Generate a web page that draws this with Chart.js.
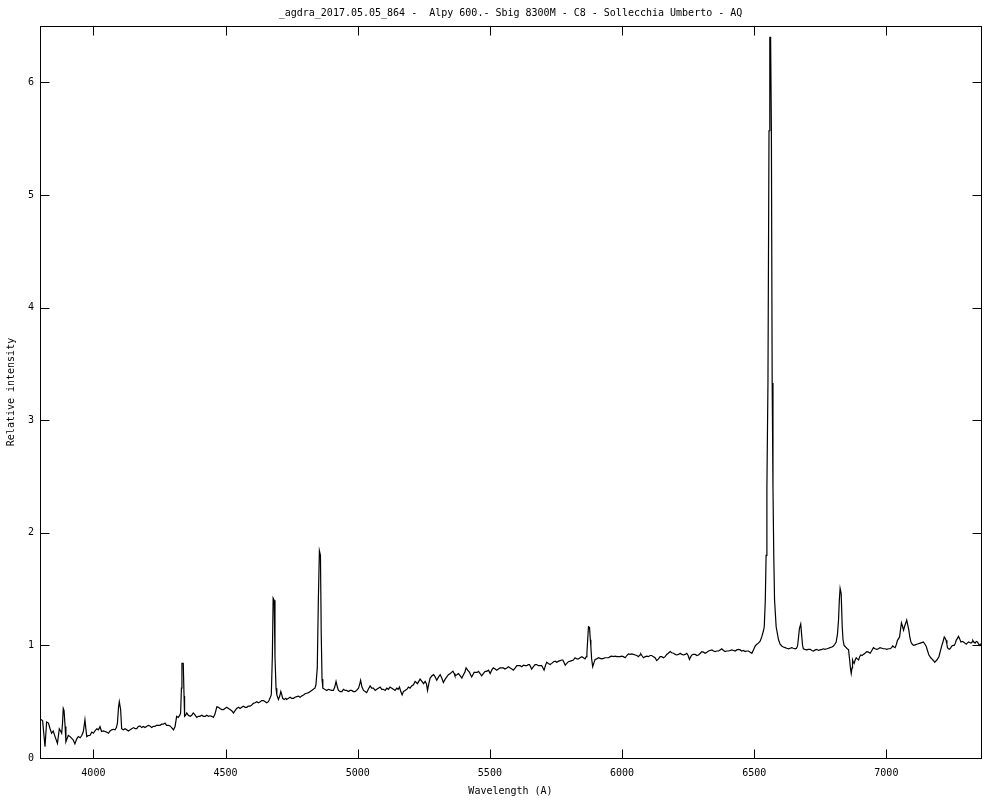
<!DOCTYPE html>
<html><head><meta charset="utf-8">
<script src="https://cdn.jsdelivr.net/npm/chart.js@4.4.1/dist/chart.umd.min.js"></script>
<style>html,body{margin:0;padding:0;background:#fff}#wrap{width:1000px;height:800px}</style>
</head><body><div id="wrap"><canvas id="c" width="1000" height="800"></canvas></div>
<script>
const chartTitle = "_agdra_2017.05.05_864 -  Alpy 600.- Sbig 8300M - C8 - Sollecchia Umberto - AQ";
const xLabel = "Wavelength (A)";
const yLabel = "Relative intensity";
const xTicks = [4000, 4500, 5000, 5500, 6000, 6500, 7000];
const yTicks = [0, 1, 2, 3, 4, 5, 6];

const wavelengths = [
3802,3808,3813,3817,3823,3830,3836,3842,3848,3855,3864,3871,3876,3880,3883,3886,3889,3893,3896,3905,
3912,3918,3924,3930,3937,3943,3950,3956,3962,3968,3972,3975,3981,3987,3994,4000,4006,4013,4019,4025,
4031,4038,4044,4050,4057,4063,4069,4076,4082,4087,4091,4095,4098,4103,4107,4113,4120,4126,4132,4139,
4145,4152,4158,4164,4170,4176,4183,4189,4195,4201,4208,4214,4220,4227,4233,4239,4246,4252,4258,4265,
4271,4277,4284,4290,4296,4303,4309,4315,4321,4327,4330,4333,4335,4340,4343,4345,4349,4353,4359,4366,
4372,4378,4385,4391,4397,4403,4410,4416,4423,4429,4435,4441,4448,4454,4460,4467,4473,4479,4486,4492,
4498,4504,4511,4517,4523,4530,4536,4542,4549,4555,4561,4567,4574,4580,4586,4593,4599,4605,4612,4618,
4624,4631,4637,4643,4650,4656,4662,4666,4673,4677,4680,4684,4687,4691,4694,4700,4705,4709,4713,4716,
4722,4728,4731,4738,4744,4750,4757,4763,4769,4776,4782,4788,4795,4801,4807,4814,4820,4826,4832,4838,
4842,4847,4851,4855,4859,4862,4865,4868,4875,4883,4889,4895,4902,4908,4913,4918,4923,
4927,4934,4940,4946,4952,4958,4965,4971,4977,4984,4990,4996,5003,5008,5011,5016,5022,5028,5034,5040,
5047,5053,5059,5066,5072,5078,5085,5091,5097,5104,5110,5116,5122,5129,5135,5141,5148,5153,5158,5163,
5168,5173,5179,5186,5192,5198,5204,5211,5217,5222,5226,5231,5236,5243,5249,5255,5260,5264,5269,5274,
5281,5287,5293,5299,5306,5312,5318,5324,5331,5337,5343,5350,5355,5360,5365,5368,5375,5381,5388,5394,
5400,5405,5410,5416,5423,5427,5431,5436,5440,5447,5452,5457,5463,5469,5475,5482,5488,5495,5501,5507,
5513,5520,5526,5532,5539,5545,5551,5557,5564,5570,5577,5583,5589,5596,5602,5608,5614,5621,5627,5633,
5640,5645,5650,5654,5658,5664,5671,5677,5684,5690,5696,5701,5705,5710,5715,5721,5728,5734,5741,5747,
5753,5760,5766,5772,5776,5780,5785,5791,5797,5804,5810,5816,5822,5829,5835,5841,5848,5854,5860,5865,
5867,5870,5873,5877,5880,5882,5885,5889,5893,5898,5904,5911,5917,5923,5930,5936,5942,5949,5955,5961,
5968,5974,5980,5986,5993,5999,6005,6012,6018,6024,6030,6037,6043,6050,6056,6062,6068,6071,6075,6081,
6088,6094,6100,6106,6112,6119,6125,6131,6138,6144,6150,6157,6163,6169,6175,6182,6188,6195,6201,6207,
6214,6220,6226,6232,6239,6245,6250,6255,6260,6264,6270,6277,6283,6289,6296,6302,6308,6314,6321,6327,
6333,6340,6346,6352,6359,6365,6371,6377,6384,6390,6396,6403,6409,6415,6422,6428,6434,6440,6447,6453,
6459,6466,6472,6478,6485,6491,6497,6504,6510,6516,6523,6529,6535,6538,6542,6545,6548,6552,6556,6559,
6562,6565,6568,6571,6574,6577,6583,6588,6592,6598,6604,6610,6617,6623,6630,6636,6642,6648,6655,6660,
6664,6668,6671,6676,6680,6683,6686,6692,6699,6705,6712,6718,6724,6731,6737,6743,6749,6756,6762,6768,
6775,6781,6787,6794,6800,6805,6810,6815,6819,6822,6825,6829,6833,6836,6840,6844,6848,6852,6857,6861,
6864,6867,6870,6872,6875,6878,6882,6886,6890,6895,6899,6903,6908,6913,6919,6926,6932,6939,6945,6951,
6957,6964,6970,6976,6983,6989,6995,7002,7008,7014,7020,7024,7029,7033,7038,7042,7046,7050,7054,7057,
7061,7065,7069,7072,7077,7081,7085,7089,7093,7098,7103,7109,7115,7121,7128,7134,7140,7146,7151,7156,
7161,7165,7168,7172,7176,7180,7183,7187,7191,7195,7199,7202,7206,7210,7214,7219,7223,7226,7229,7231,
7235,7239,7244,7248,7252,7257,7261,7264,7268,7273,7277,7282,7287,7292,7297,7302,7306,7311,7315,7320,
7324,7327,7331,7336,7340,7345,7349,7352,7355,7358
];

const intensities = [
0.343,0.33,0.20,0.10,0.32,0.31,0.26,0.22,0.24,0.19,0.13,0.26,0.24,0.22,0.30,0.44,0.42,0.28,0.145,0.20,
0.19,0.175,0.16,0.125,0.17,0.19,0.18,0.20,0.235,0.34,0.25,0.19,0.20,0.20,0.23,0.22,0.24,0.26,0.25,0.278,
0.235,0.24,0.235,0.23,0.22,0.24,0.25,0.255,0.25,0.27,0.31,0.45,0.50,0.43,0.26,0.25,0.26,0.25,0.24,0.25,
0.26,0.27,0.26,0.26,0.28,0.285,0.27,0.28,0.27,0.28,0.29,0.285,0.27,0.28,0.28,0.29,0.29,0.29,0.30,0.30,
0.31,0.29,0.29,0.285,0.27,0.25,0.28,0.37,0.36,0.38,0.40,0.62,0.84,0.84,0.55,0.37,0.38,0.40,0.38,0.37,
0.38,0.40,0.38,0.36,0.37,0.37,0.38,0.37,0.37,0.38,0.37,0.375,0.37,0.36,0.39,0.455,0.45,0.44,0.43,0.43,
0.44,0.45,0.44,0.43,0.42,0.40,0.42,0.44,0.45,0.44,0.45,0.46,0.45,0.45,0.46,0.46,0.47,0.485,0.49,0.50,
0.49,0.50,0.51,0.51,0.50,0.49,0.50,0.52,0.56,0.90,1.42,1.40,0.90,0.62,0.56,0.52,0.55,0.59,0.56,0.53,
0.52,0.53,0.52,0.53,0.54,0.53,0.53,0.54,0.545,0.55,0.54,0.55,0.56,0.57,0.575,0.58,0.59,0.60,0.61,0.62,
0.65,0.80,1.40,1.84,1.80,1.10,0.70,0.62,0.61,0.60,0.61,0.605,0.60,0.60,0.63,0.68,0.63,
0.60,0.59,0.59,0.61,0.60,0.60,0.59,0.60,0.60,0.59,0.59,0.60,0.62,0.66,0.69,0.63,0.60,0.59,0.58,0.61,
0.64,0.62,0.62,0.60,0.61,0.62,0.63,0.61,0.61,0.60,0.62,0.61,0.63,0.62,0.61,0.60,0.62,0.61,0.63,0.59,
0.56,0.59,0.60,0.61,0.63,0.62,0.64,0.65,0.68,0.67,0.66,0.68,0.70,0.68,0.66,0.68,0.66,0.60,0.66,0.71,
0.73,0.74,0.72,0.69,0.72,0.74,0.71,0.67,0.70,0.72,0.74,0.75,0.76,0.77,0.75,0.73,0.74,0.75,0.73,0.71,
0.74,0.76,0.80,0.78,0.76,0.74,0.72,0.74,0.76,0.76,0.76,0.77,0.75,0.73,0.75,0.77,0.77,0.78,0.75,0.78,
0.80,0.79,0.78,0.79,0.80,0.80,0.80,0.79,0.80,0.81,0.80,0.79,0.78,0.80,0.82,0.82,0.82,0.81,0.825,0.82,
0.82,0.83,0.83,0.81,0.79,0.81,0.83,0.83,0.82,0.82,0.82,0.80,0.78,0.82,0.85,0.84,0.83,0.84,0.855,0.86,
0.85,0.86,0.865,0.87,0.87,0.85,0.825,0.84,0.855,0.86,0.865,0.87,0.89,0.88,0.88,0.89,0.90,0.89,0.88,0.90,
0.93,1.05,1.165,1.16,1.05,0.99,0.88,0.81,0.84,0.875,0.88,0.89,0.885,0.88,0.885,0.89,0.89,0.89,0.90,0.905,
0.90,0.905,0.90,0.90,0.90,0.905,0.90,0.89,0.91,0.925,0.92,0.925,0.92,0.915,0.91,0.90,0.915,0.925,0.91,0.89,
0.90,0.905,0.90,0.91,0.91,0.90,0.89,0.865,0.88,0.90,0.90,0.89,0.90,0.92,0.93,0.945,0.935,0.93,0.92,0.915,
0.92,0.93,0.92,0.915,0.92,0.93,0.91,0.875,0.90,0.915,0.92,0.92,0.91,0.915,0.93,0.945,0.94,0.93,0.94,0.95,
0.955,0.96,0.95,0.945,0.95,0.95,0.96,0.97,0.955,0.945,0.95,0.95,0.955,0.96,0.955,0.95,0.96,0.965,0.96,0.95,
0.955,0.945,0.95,0.95,0.94,0.93,0.96,0.995,1.01,1.02,1.04,1.08,1.13,1.165,1.40,1.80,2.40,3.33,5.57,6.40,
6.40,5.57,3.33,2.40,1.80,1.40,1.165,1.10,1.05,1.01,0.995,0.985,0.98,0.975,0.97,0.975,0.98,0.975,0.97,0.975,
0.995,1.08,1.15,1.19,1.08,1.00,0.97,0.965,0.96,0.965,0.965,0.955,0.95,0.96,0.965,0.955,0.96,0.965,0.97,0.965,
0.97,0.975,0.98,0.985,0.995,1.01,1.03,1.10,1.225,1.40,1.506,1.46,1.165,1.05,1.00,0.99,0.98,0.97,0.96,0.87,
0.80,0.75,0.80,0.87,0.85,0.84,0.87,0.89,0.88,0.87,0.90,0.915,0.91,0.92,0.93,0.945,0.94,0.93,0.955,0.98,
0.97,0.965,0.97,0.98,0.975,0.97,0.97,0.965,0.97,0.97,0.98,0.995,0.985,0.98,1.01,1.045,1.06,1.075,1.15,1.20,
1.17,1.135,1.17,1.19,1.225,1.18,1.135,1.07,1.03,1.01,1.00,1.005,1.01,1.015,1.02,1.025,1.03,1.01,0.99,0.95,
0.915,0.90,0.89,0.88,0.87,0.86,0.85,0.86,0.87,0.885,0.90,0.93,0.965,1.00,1.03,1.075,1.06,1.045,1.01,0.98,
0.97,0.965,0.98,0.995,1.00,1.00,1.02,1.045,1.06,1.08,1.06,1.03,1.035,1.03,1.02,1.01,1.02,1.03,1.025,1.02,
1.03,1.045,1.03,1.02,1.035,1.03,1.01,1.00,1.01,0.995
];

const xMin = 3798, xMax = 7358, yMin = 0, yMax = 6.5;
const FONT = "'DejaVu Sans Mono', monospace";

const points = wavelengths.map((w, i) => ({ x: w, y: intensities[i] }));

const framePlugin = {
  id: 'gnuplotFrame',
  afterDatasetsDraw(chart) {
    const { ctx, chartArea: a, scales } = chart;
    const L = Math.round(a.left) + 0.5, R = Math.round(a.right) + 0.5;
    const T = Math.round(a.top) + 0.5, B = Math.round(a.bottom) + 0.5;
    ctx.save();
    ctx.strokeStyle = '#000';
    ctx.lineWidth = 1;
    ctx.strokeRect(L, T, R - L, B - T);
    const len = 9;
    ctx.beginPath();
    xTicks.forEach(v => {
      const px = Math.round(scales.x.getPixelForValue(v)) + 0.5;
      ctx.moveTo(px, B); ctx.lineTo(px, B - len);
      ctx.moveTo(px, T); ctx.lineTo(px, T + len);
    });
    yTicks.forEach(v => {
      const py = Math.round(scales.y.getPixelForValue(v)) + 0.5;
      ctx.moveTo(L, py); ctx.lineTo(L + len, py);
      ctx.moveTo(R, py); ctx.lineTo(R - len, py);
    });
    ctx.stroke();
    ctx.restore();
  }
};

Chart.defaults.font.family = FONT;
Chart.defaults.font.size = 10;
Chart.defaults.color = '#000';

new Chart(document.getElementById('c'), {
  type: 'line',
  data: {
    datasets: [{
      data: points,
      borderColor: '#000',
      borderWidth: 1.2,
      pointRadius: 0,
      tension: 0,
      fill: false
    }]
  },
  options: {
    responsive: false,
    animation: false,
    devicePixelRatio: 1,
    layout: { padding: { left: 0, right: 19, top: 0, bottom: 0 } },
    plugins: {
      legend: { display: false },
      tooltip: { enabled: false },
      title: {
        display: true,
        fullSize: false,
        text: chartTitle,
        color: '#000',
        font: { family: FONT, size: 10, weight: 'normal' },
        padding: { top: 7, bottom: 7 }
      }
    },
    scales: {
      x: {
        type: 'linear',
        min: xMin, max: xMax,
        afterBuildTicks: s => { s.ticks = xTicks.map(v => ({ value: v })); },
        afterFit: s => { s.height = 42; },
        grid: { display: false, drawTicks: false },
        border: { display: false },
        ticks: { padding: 9, maxRotation: 0, autoSkip: false, color: '#000',
                 font: { family: FONT, size: 10 }, callback: v => String(v) },
        title: { display: true, text: xLabel, color: '#000',
                 font: { family: FONT, size: 10 }, padding: { top: 0, bottom: 3 } }
      },
      y: {
        type: 'linear',
        min: yMin, max: yMax,
        afterBuildTicks: s => { s.ticks = yTicks.map(v => ({ value: v })); },
        afterFit: s => { s.width = 40; },
        grid: { display: false, drawTicks: false },
        border: { display: false },
        ticks: { padding: 6, color: '#000', font: { family: FONT, size: 10 },
                 callback: v => String(v) },
        title: { display: true, text: yLabel, color: '#000',
                 font: { family: FONT, size: 10 }, padding: { top: 5, bottom: 0 } }
      }
    }
  },
  plugins: [framePlugin]
});
</script>
</body></html>
